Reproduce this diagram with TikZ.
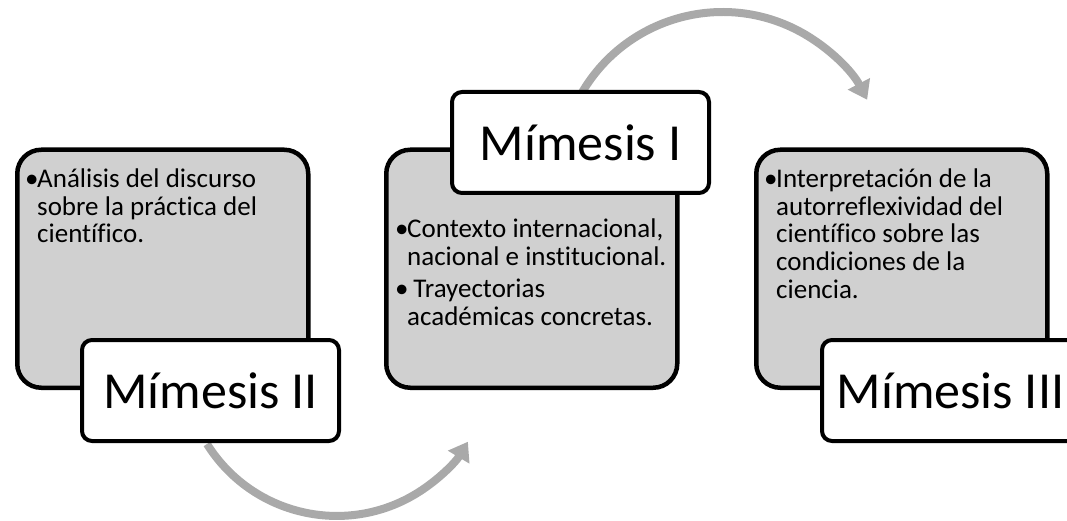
\documentclass[tikz,border=0pt]{standalone}
\usepackage{fontspec}
\setmainfont{Carlito}[Ligatures=NoCommon]
\usetikzlibrary{arrows.meta}
\definecolor{panelgray}{HTML}{D0D0D0}
\definecolor{flowgray}{HTML}{A9A9A9}
% bullet item with hanging indent, lines broken by \newline
\newcommand{\bulitem}[1]{\par\raggedright\spaceskip=0.23em\relax\noindent\hangindent=12pt\hangafter=1\makebox[12pt][l]{•}#1\par}
\begin{document}
\begin{tikzpicture}[x=1pt, y=1pt,
  panel/.style={draw=black, line width=4.5pt, fill=panelgray, rounded corners=24pt,
    minimum width=291pt, minimum height=238pt, anchor=south west, inner sep=0pt},
  tag/.style={draw=black, line width=4pt, fill=white, rounded corners=10pt,
    minimum width=257pt, minimum height=101pt, anchor=south west, inner sep=0pt,
    font=\fontsize{52}{60}\selectfont},
  bodytext/.style={anchor=base west, text width=300pt, inner sep=0pt,
    font=\fontsize{27}{27.8}\selectfont},
  flow/.style={draw=flowgray, line width=8pt, -{Triangle[width=24pt,length=18pt]}}]
\useasboundingbox (0,0) rectangle (1067,520);
% Flow arrows (behind everything)
\coordinate (f1s) at (207,76);
\coordinate (f2s) at (580,424);
\draw[flow] (f1s) arc[start angle=212, end angle=329, radius=153];
\draw[flow] (f2s) arc[start angle=151, end angle=27.5, radius=163];
% Panels
\node[panel] (p1) at (15,130) {};
\node[panel] (p2) at (384,130) {};
\node[panel] (p3) at (754,130) {};
% Panel texts
\node[bodytext] (t1) at ([xshift=10pt, yshift=-12pt]p1.north west)
  {\bulitem{Análisis del discurso\newline sobre la práctica del\newline científico.}};
\node[bodytext] (t2) at ([xshift=11pt, yshift=-62pt]p2.north west)
  {\bulitem{Contexto internacional,\newline nacional e institucional.}\vspace{5pt}
   \bulitem{ Trayectorias\newline académicas concretas.}};
\node[bodytext] (t3) at ([xshift=10pt, yshift=-12pt]p3.north west)
  {\bulitem{Interpretación de la\newline autorreflexividad del\newline científico sobre las\newline condiciones de la\newline ciencia.}};
% Title tags
\node[tag] (m2) at (80,77) {Mímesis II};
\node[tag] (m1) at (450,325) {Mímesis I};
\node[tag] (m3) at (820,77) {Mímesis III};
\end{tikzpicture}
\end{document}
